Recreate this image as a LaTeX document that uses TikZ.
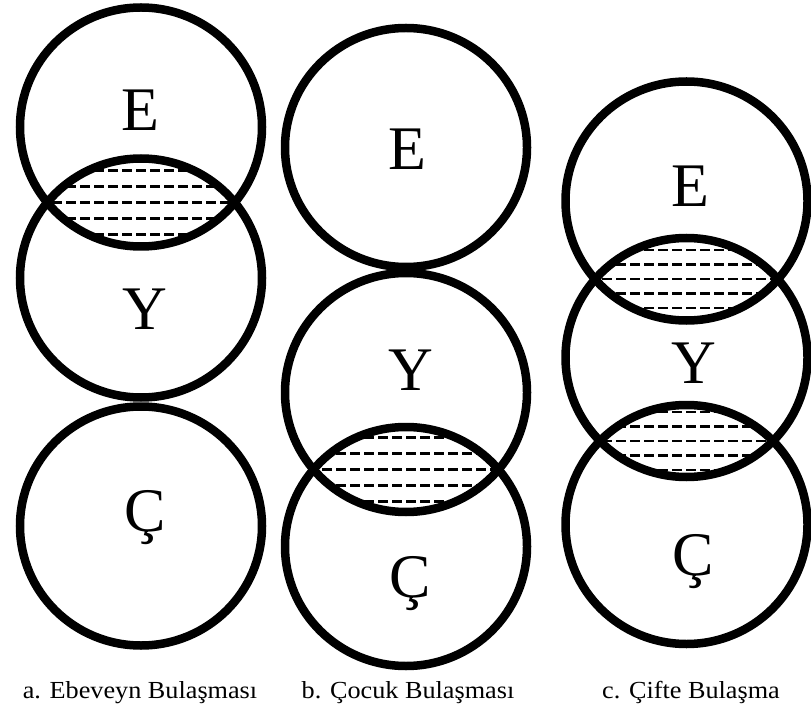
\documentclass[tikz,border=0pt]{standalone}
\usepackage{fontspec}
\setmainfont{Liberation Serif}
\begin{document}
\begin{tikzpicture}[x=1pt, y=-1pt,
  ring/.style={line width=8.5pt},
  hatch/.style={line width=2.2pt, dash pattern=on 10pt off 4pt},
  letter/.style={font=\fontsize{62}{62}\selectfont, anchor=base, inner sep=0pt},
  caption/.style={font=\fontsize{24.5}{24.5}\selectfont, anchor=base, inner sep=0pt,
    xscale=1.07, transform shape}]
  \def\rx{121pt}
  \def\ry{119.5pt}
  \useasboundingbox (0,0) rectangle (811,711);
  % a. ebeveyn
  \begin{scope}
    \clip (141,127) ellipse [x radius=\rx, y radius=\ry];
    \clip (141,278) ellipse [x radius=\rx, y radius=\ry];
    \foreach \dy in {-32,-16,0,16,32}
      \draw[hatch] (10,202.5+\dy) -- (270,202.5+\dy);
  \end{scope}
  \draw[ring] (141,127) ellipse [x radius=\rx, y radius=\ry];
  \draw[ring] (141,278) ellipse [x radius=\rx, y radius=\ry];
  \draw[ring] (141,526) ellipse [x radius=\rx, y radius=\ry];
  \node[letter] (eA) at (140,131) {E};
  \node[letter] (yA) at (145,330) {Y};
  \node[letter] (cA) at (145,531) {Ç};
  % b. cocuk
  \begin{scope}
    \clip (406,392.5) ellipse [x radius=\rx, y radius=\ry];
    \clip (406,546.5) ellipse [x radius=\rx, y radius=\ry];
    \foreach \dy in {-32,-16,0,16,32}
      \draw[hatch] (280,469.5+\dy) -- (535,469.5+\dy);
  \end{scope}
  \draw[ring] (406,147.5) ellipse [x radius=\rx, y radius=\ry];
  \draw[ring] (406,392.5) ellipse [x radius=\rx, y radius=\ry];
  \draw[ring] (406,546.5) ellipse [x radius=\rx, y radius=\ry];
  \node[letter] (eB) at (407.5,170) {E};
  \node[letter] (yB) at (411,390) {Y};
  \node[letter] (cB) at (410,597) {Ç};
  % c. cifte
  \begin{scope}
    \clip (686.5,201) ellipse [x radius=\rx, y radius=\ry];
    \clip (686.5,357.5) ellipse [x radius=\rx, y radius=\ry];
    \foreach \dy in {-29,-14.5,0,14.5,29}
      \draw[hatch] (560,279+\dy) -- (811,279+\dy);
  \end{scope}
  \begin{scope}
    \clip (686.5,357.5) ellipse [x radius=\rx, y radius=\ry];
    \clip (686.5,524.5) ellipse [x radius=\rx, y radius=\ry];
    \foreach \dy in {-29,-14.5,0,14.5,29}
      \draw[hatch] (560,441+\dy) -- (811,441+\dy);
  \end{scope}
  \draw[ring] (686.5,201) ellipse [x radius=\rx, y radius=\ry];
  \draw[ring] (686.5,357.5) ellipse [x radius=\rx, y radius=\ry];
  \draw[ring] (686.5,524.5) ellipse [x radius=\rx, y radius=\ry];
  \node[letter] (eC) at (690,207) {E};
  \node[letter] (yC) at (694,383) {Y};
  \node[letter] (cC) at (693,575) {Ç};
  % captions
  \node[caption] (capA) at (140,698) {a. Ebeveyn Bulaşması};
  \node[caption] (capB) at (408,698) {b. Çocuk Bulaşması};
  \node[caption] (capC) at (691,698) {c. Çifte Bulaşma};
\end{tikzpicture}
\end{document}
